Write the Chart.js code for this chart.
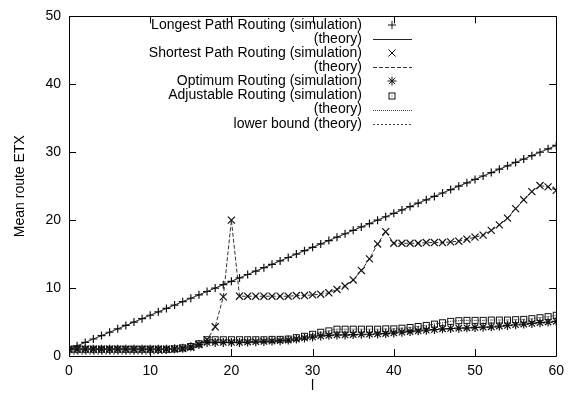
<!DOCTYPE html>
<html>
<head>
<meta charset="utf-8">
<script src="https://cdn.jsdelivr.net/npm/chart.js@4.4.1/dist/chart.umd.min.js"></script>
<style>
  html, body { margin: 0; padding: 0; background: #fff; }
  #wrap { width: 571px; height: 395px; }
</style>
</head>
<body>
<div id="wrap"><canvas id="etx" width="571" height="395"></canvas></div>
<script>
// route length l
const lValues = [0, 1, 2, 3, 4, 5, 6, 7, 8, 9, 10, 11, 12, 13, 14, 15, 16, 17, 18, 19, 20,
  21, 22, 23, 24, 25, 26, 27, 28, 29, 30, 31, 32, 33, 34, 35, 36, 37, 38, 39, 40,
  41, 42, 43, 44, 45, 46, 47, 48, 49, 50, 51, 52, 53, 54, 55, 56, 57, 58, 59, 60];

const longestSim = [1, 1.5, 2, 2.5, 3, 3.5, 4, 4.5, 5, 5.5, 6, 6.5, 7, 7.5, 8, 8.5, 9, 9.5, 10, 10.5, 11,
  11.5, 12, 12.5, 13, 13.5, 14, 14.5, 15, 15.5, 16, 16.5, 17, 17.5, 18, 18.5, 19, 19.5, 20, 20.5, 21,
  21.5, 22, 22.5, 23, 23.5, 24, 24.5, 25, 25.5, 26, 26.5, 27, 27.5, 28, 28.5, 29, 29.5, 30, 30.5, 31];
const longestTheoryL = [0, 60];
const longestTheory = [1, 31];

const shortestSim = [1.0, 1.0, 1.0, 1.0, 1.0, 1.0, 1.0, 1.0, 1.0, 1.0, 1.0, 1.0, 1.0, 1.05, 1.1, 1.3, 1.7, 2.4, 4.3, 8.7, 20.0,
  8.8, 8.8, 8.8, 8.8, 8.8, 8.8, 8.8, 8.9, 8.9, 9.0, 9.1, 9.3, 9.8, 10.3, 11.2, 12.6, 14.3, 16.5, 18.3, 16.6,
  16.6, 16.6, 16.6, 16.7, 16.7, 16.7, 16.8, 16.9, 17.2, 17.5, 17.8, 18.5, 19.3, 20.3, 21.7, 23.0, 24.2, 25.1, 24.9, 24.4];

const optimumSim = [1.0, 1.0, 1.0, 1.0, 1.0, 1.0, 1.0, 1.0, 1.0, 1.0, 1.0, 1.0, 1.0, 1.05, 1.15, 1.35, 1.7, 2.0, 2.0, 2.0, 2.0,
  2.0, 2.05, 2.1, 2.15, 2.2, 2.25, 2.35, 2.5, 2.65, 2.8, 2.95, 3.05, 3.1, 3.1, 3.15, 3.2, 3.2, 3.25, 3.3, 3.4,
  3.5, 3.6, 3.7, 3.8, 3.9, 4.0, 4.05, 4.1, 4.15, 4.2, 4.25, 4.3, 4.4, 4.5, 4.6, 4.7, 4.8, 4.9, 5.0, 5.1];

const adjustableSim = [1.0, 1.0, 1.0, 1.0, 1.0, 1.0, 1.0, 1.0, 1.0, 1.0, 1.0, 1.0, 1.0, 1.05, 1.2, 1.4, 1.8, 2.4, 2.4, 2.4, 2.4,
  2.4, 2.4, 2.4, 2.4, 2.45, 2.45, 2.5, 2.7, 2.9, 3.2, 3.5, 3.7, 3.95, 3.95, 3.95, 3.95, 3.95, 3.95, 4.0, 4.0,
  4.1, 4.2, 4.35, 4.5, 4.7, 4.9, 5.1, 5.2, 5.25, 5.25, 5.25, 5.3, 5.3, 5.3, 5.35, 5.4, 5.5, 5.65, 5.8, 6.0];

const lowerBound = [0.3, 0.3, 0.3, 0.3, 0.3, 0.3, 0.3, 0.3, 0.3, 0.3, 0.3, 0.35, 0.45, 0.6, 0.8, 1.1, 1.5, 1.8, 1.85, 1.9, 1.9,
  1.9, 1.95, 2.0, 2.05, 2.1, 2.15, 2.25, 2.4, 2.55, 2.7, 2.85, 2.95, 3.0, 3.0, 3.05, 3.1, 3.1, 3.15, 3.2, 3.3,
  3.4, 3.5, 3.6, 3.7, 3.8, 3.9, 3.95, 4.0, 4.05, 4.1, 4.15, 4.2, 4.3, 4.4, 4.5, 4.6, 4.7, 4.8, 4.9, 5.0];

const legendLabels = [
  'Longest Path Routing (simulation)',
  '(theory)',
  'Shortest Path Routing (simulation)',
  '(theory)',
  'Optimum Routing (simulation)',
  'Adjustable Routing (simulation)',
  '(theory)',
  'lower bound (theory)'
];

const yTicks = [0, 10, 20, 30, 40, 50];
const xTicks = [0, 10, 20, 30, 40, 50, 60];

const FONT = '"Liberation Sans", Arial, Helvetica, sans-serif';
const FSIZE = 14;

function pts(xs, ys) {
  return xs.map((x, i) => ({ x: x, y: ys[i] }));
}

// square with a dot in the middle
function boxDot() {
  const c = document.createElement('canvas');
  c.width = 9; c.height = 9;
  const g = c.getContext('2d');
  g.strokeStyle = '#111';
  g.lineWidth = 1;
  g.strokeRect(1.5, 1.5, 6, 6);
  g.fillStyle = '#555';
  g.fillRect(4, 4, 1, 1);
  return c;
}
const boxStyle = boxDot();

function simSet(label, ys, style, radius) {
  return {
    label: label,
    data: pts(lValues, ys),
    showLine: false,
    pointStyle: style,
    pointRadius: radius,
    pointBorderColor: '#111',
    pointBackgroundColor: 'rgba(0,0,0,0)',
    pointBorderWidth: 1.2,
    legendKind: 'point'
  };
}

function theorySet(label, xs, ys, dash, width, color) {
  return {
    label: label,
    data: pts(xs, ys),
    borderColor: color,
    borderWidth: width,
    borderDash: dash,
    pointRadius: 0,
    fill: false,
    tension: 0,
    legendKind: 'line'
  };
}

const datasets = [
  simSet(legendLabels[0], longestSim, 'cross', 4),
  theorySet(legendLabels[1], longestTheoryL, longestTheory, [], 1, '#222'),
  simSet(legendLabels[2], shortestSim, 'crossRot', 5),
  theorySet(legendLabels[3], lValues, shortestSim, [4, 2], 1, '#333'),
  simSet(legendLabels[4], optimumSim, 'star', 4.5),
  simSet(legendLabels[5], adjustableSim, boxStyle, 4.5),
  theorySet(legendLabels[6], lValues, adjustableSim, [1, 1], 1, '#444'),
  theorySet(legendLabels[7], lValues, lowerBound, [2, 2], 1, '#444')
];

// gnuplot style frame with inward ticks plus the key
const framePlugin = {
  id: 'frame',
  afterDraw(chart) {
    const { ctx, chartArea: a, scales: { x, y } } = chart;
    const tick = 7;
    ctx.save();
    ctx.strokeStyle = '#000';
    ctx.lineWidth = 1;
    ctx.beginPath();
    ctx.rect(Math.round(a.left) + 0.5, Math.round(a.top) + 0.5,
      Math.round(a.right - a.left), Math.round(a.bottom - a.top));
    yTicks.forEach(v => {
      const py = Math.round(y.getPixelForValue(v)) + 0.5;
      ctx.moveTo(a.left, py); ctx.lineTo(a.left + tick, py);
      ctx.moveTo(a.right, py); ctx.lineTo(a.right - tick, py);
    });
    xTicks.forEach(v => {
      const px = Math.round(x.getPixelForValue(v)) + 0.5;
      ctx.moveTo(px, a.bottom); ctx.lineTo(px, a.bottom - tick);
      ctx.moveTo(px, a.top); ctx.lineTo(px, a.top + tick);
    });
    ctx.stroke();

    // key
    const textRight = 362, sampleL = 373, sampleR = 412, markX = 392;
    ctx.font = FSIZE + 'px ' + FONT;
    ctx.textAlign = 'right';
    ctx.textBaseline = 'middle';
    chart.data.datasets.forEach((ds, i) => {
      const ry = 25 + i * 14.1;
      ctx.fillStyle = '#000';
      ctx.fillText(ds.label, textRight, ry);
      if (ds.legendKind === 'line') {
        ctx.strokeStyle = ds.borderColor;
        ctx.lineWidth = ds.borderWidth;
        ctx.setLineDash(ds.borderDash);
        ctx.beginPath();
        ctx.moveTo(sampleL, Math.round(ry) + 0.5);
        ctx.lineTo(sampleR, Math.round(ry) + 0.5);
        ctx.stroke();
        ctx.setLineDash([]);
      } else {
        ctx.strokeStyle = ds.pointBorderColor;
        ctx.fillStyle = 'rgba(0,0,0,0)';
        ctx.lineWidth = 1;
        Chart.helpers.drawPoint(ctx, {
          pointStyle: ds.pointStyle,
          radius: ds.pointRadius,
          rotation: 0,
          borderWidth: 1
        }, markX, Math.round(ry));
      }
    });
    ctx.restore();
  }
};

new Chart(document.getElementById('etx'), {
  type: 'line',
  data: { datasets: datasets },
  plugins: [framePlugin],
  options: {
    responsive: false,
    animation: false,
    layout: { padding: { top: 12, right: 13, left: 0, bottom: 0 } },
    plugins: {
      legend: { display: false },
      tooltip: { enabled: false }
    },
    scales: {
      x: {
        type: 'linear',
        min: 0,
        max: 60,
        afterFit: (s) => { s.height = 39; },
        afterBuildTicks: (s) => { s.ticks = xTicks.map(v => ({ value: v })); },
        grid: { display: false, drawTicks: false },
        border: { display: false },
        ticks: { color: '#000', padding: 7, maxRotation: 0, font: { family: FONT, size: FSIZE } },
        title: { display: true, text: 'l', color: '#000', padding: { top: 0, bottom: 0 }, font: { family: FONT, size: FSIZE } }
      },
      y: {
        type: 'linear',
        min: 0,
        max: 50,
        afterFit: (s) => { s.width = 69; },
        afterBuildTicks: (s) => { s.ticks = yTicks.map(v => ({ value: v })); },
        grid: { display: false, drawTicks: false },
        border: { display: false },
        ticks: { color: '#000', padding: 8, font: { family: FONT, size: FSIZE } },
        title: { display: true, text: 'Mean route ETX', color: '#000', padding: { top: 12, bottom: 0 }, font: { family: FONT, size: FSIZE } }
      }
    }
  }
});
</script>
</body>
</html>
